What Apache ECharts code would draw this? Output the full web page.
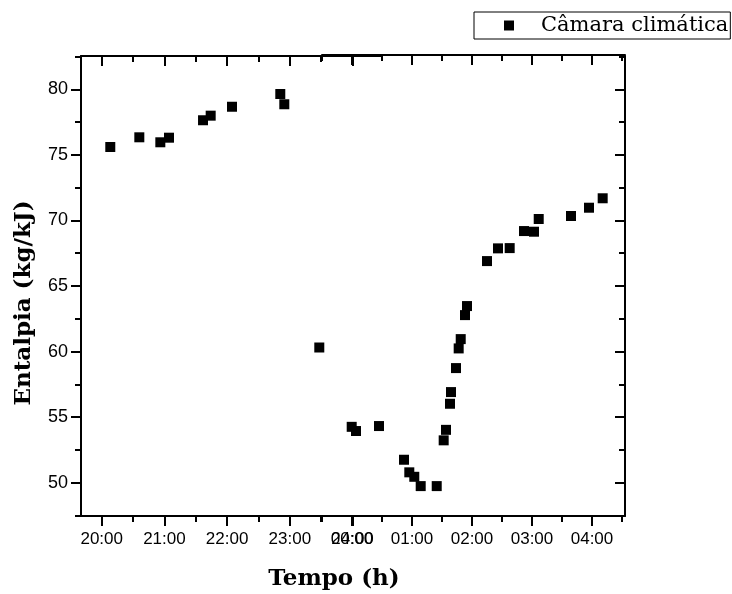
<!DOCTYPE html>
<html><head><meta charset="utf-8">
<script src="https://cdn.jsdelivr.net/npm/echarts@6/dist/echarts.min.js"></script>
<style>html,body{margin:0;padding:0;background:#fff}#c{width:732px;height:594px}</style>
</head><body><div id="c"></div>
<script>
// Evening part (hours, 20 = 20:00)
const timesA  = [20.137, 20.600, 20.935, 21.073, 21.616, 21.738, 22.078, 22.848, 22.912, 23.47];
const valuesA = [75.60, 76.34, 75.96, 76.31, 77.64, 77.99, 78.67, 79.64, 78.86, 60.31];
// Night part (hours after 00:00)
const timesB  = [-0.005, 0.067, 0.45, 0.867, 0.955, 1.038, 1.145, 1.412, 1.528, 1.567, 1.633, 1.65, 1.733, 1.778, 1.812, 1.883, 1.917, 2.25, 2.433, 2.628, 2.867, 3.033, 3.112, 3.65, 3.95, 4.178];
const valuesB = [54.26, 53.94, 54.32, 51.75, 50.79, 50.45, 49.74, 49.74, 53.23, 54.03, 56.02, 56.91, 58.74, 60.24, 60.95, 62.78, 63.47, 66.90, 67.87, 67.89, 69.19, 69.14, 70.11, 70.34, 70.97, 71.69];

const xMajorA = [20, 21, 22, 23, 24];
const xLabelsA = ["20:00", "21:00", "22:00", "23:00", "24:00"];
const xMinorA = [20.5, 21.5, 22.5, 23.5];
const xMajorB = [0, 1, 2, 3, 4];
const xLabelsB = ["00:00", "01:00", "02:00", "03:00", "04:00"];
const xMinorB = [-0.5, 0.5, 1.5, 2.5, 3.5, 4.5];
const yMajor = [50, 55, 60, 65, 70, 75, 80];
const yMinor = [47.5, 52.5, 57.5, 62.5, 67.5, 72.5, 77.5, 82.5];

const seriesName = "Câmara climática";
const xTitle = "Tempo (h)";
const yTitle = "Entalpia (kg/kJ)";

const Y_MIN = 47.46, Y_MAX = 82.54;
const A_MIN = 19.670, A_MAX = 24.47;
const B_MIN = -0.5, B_MAX = 4.55;
const LW = 2;
const lineStyle = {color: '#000', width: LW};

function xAx(grid, pos, min, max, vals, len, inside, labels, showLine, offset) {
  return {
    type: 'value', gridIndex: grid, position: pos, min: min, max: max, offset: offset || 0,
    splitLine: {show: false},
    axisLine: {show: showLine, onZero: false, lineStyle: lineStyle},
    axisTick: {show: true, inside: inside, length: len, customValues: vals, lineStyle: lineStyle},
    axisLabel: labels ? {
      show: true, customValues: vals, margin: 15,
      fontFamily: 'Liberation Sans', fontSize: 17, color: '#000',
      formatter: function (v) { return labels[vals.indexOf(v)]; }
    } : {show: false}
  };
}
function yAx(grid, pos, vals, len, inside, label, showLine) {
  return {
    type: 'value', gridIndex: grid, position: pos, min: Y_MIN, max: Y_MAX,
    splitLine: {show: false},
    axisLine: {show: showLine, onZero: false, lineStyle: lineStyle},
    axisTick: {show: true, inside: inside, length: len, customValues: vals, lineStyle: lineStyle},
    axisLabel: label ? {
      show: true, customValues: vals, margin: 13,
      fontFamily: 'Liberation Sans', fontSize: 18, color: '#000'
    } : {show: false}
  };
}

const chart = echarts.init(document.getElementById('c'), null, {renderer: 'canvas'});
chart.setOption({
  animation: false,
  backgroundColor: '#fff',
  grid: [
    {left: 81, top: 56, width: 301, height: 460},
    {left: 322, top: 56, width: 303, height: 460}
  ],
  xAxis: [
    xAx(0, 'bottom', A_MIN, A_MAX, xMajorA, 10, false, xLabelsA, true),
    xAx(0, 'bottom', A_MIN, A_MAX, xMinorA, 6, false, null, false),
    xAx(0, 'top', A_MIN, A_MAX, xMajorA, 10, true, null, true),
    xAx(0, 'top', A_MIN, A_MAX, xMinorA, 6, true, null, false),
    xAx(1, 'bottom', B_MIN, B_MAX, xMajorB, 10, false, xLabelsB, true),
    xAx(1, 'bottom', B_MIN, B_MAX, xMinorB, 6, false, null, false),
    xAx(1, 'top', B_MIN, B_MAX, xMajorB, 10, true, null, true, 1),
    xAx(1, 'top', B_MIN, B_MAX, xMinorB, 6, true, null, false, 1)
  ],
  yAxis: [
    yAx(0, 'left', yMajor, 10, false, true, true),
    yAx(0, 'left', yMinor, 6, false, false, false),
    yAx(1, 'right', yMajor, 10, true, false, true),
    yAx(1, 'right', yMinor, 6, true, false, false)
  ],
  legend: {
    left: 474, top: 12,
    data: [seriesName],
    icon: 'rect', itemWidth: 10, itemHeight: 10,
    borderColor: '#000', borderWidth: 1, borderRadius: 0,
    padding: [3, 2, 3, 30],
    textStyle: {fontFamily: 'DejaVu Serif', fontSize: 21, color: '#000', padding: [0, 0, 0, 22]}
  },
  graphic: [
    {type: 'text', x: 334, y: 579, style: {text: xTitle, font: 'bold 23px "DejaVu Serif"', fill: '#000', textAlign: 'center', textVerticalAlign: 'middle'}},
    {type: 'text', x: 24, y: 303, rotation: Math.PI / 2, style: {text: yTitle, font: 'bold 23px "DejaVu Serif"', fill: '#000', textAlign: 'center', textVerticalAlign: 'middle'}}
  ],
  series: [
    {name: seriesName, type: 'scatter', xAxisIndex: 0, yAxisIndex: 0, symbol: 'rect', symbolSize: 10,
     itemStyle: {color: '#000', opacity: 1}, data: timesA.map((t, i) => [t, valuesA[i]])},
    {name: seriesName, type: 'scatter', xAxisIndex: 4, yAxisIndex: 2, symbol: 'rect', symbolSize: 10,
     itemStyle: {color: '#000', opacity: 1}, data: timesB.map((t, i) => [t, valuesB[i]])}
  ]
});
</script></body></html>
